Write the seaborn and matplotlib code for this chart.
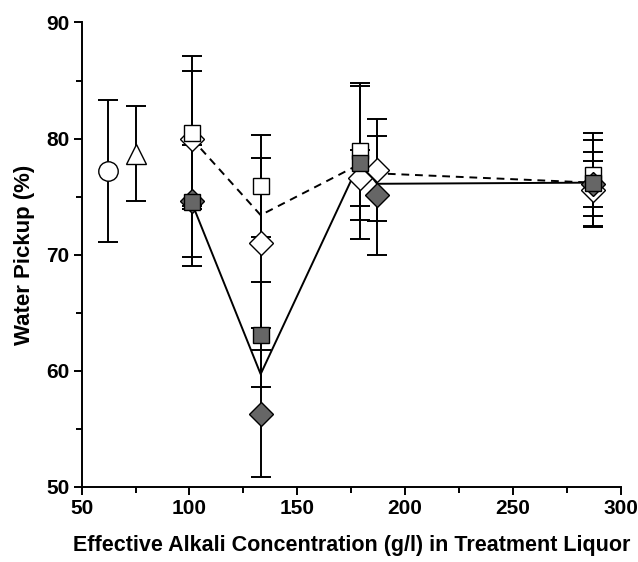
import numpy as np
import pandas as pd
import matplotlib
matplotlib.use("Agg")
import matplotlib.pyplot as plt
import seaborn as sns
from matplotlib.ticker import MultipleLocator

# single reference points
ref_circle_x = [62]
ref_circle_y = [77.2]
ref_circle_err = [6.1]
ref_tri_x = [75]
ref_tri_y = [78.7]
ref_tri_err = [4.1]

# open squares
osq_x = [101, 133, 179, 287]
osq_y = [80.5, 75.9, 78.9, 76.9]
osq_err = [6.6, 4.4, 5.9, 3.6]

# open diamonds
odi_x = [101, 133, 179, 187, 287]
odi_y = [80.0, 71.0, 76.6, 77.3, 75.6]
odi_err = [5.8, 7.3, 2.4, 4.4, 3.2]

# filled squares
fsq_x = [101, 133, 179, 287]
fsq_y = [74.5, 63.1, 77.9, 76.2]
fsq_err = [5.5, 4.5, 6.6, 3.7]

# filled diamonds
fdi_x = [101, 133, 187, 287]
fdi_y = [74.6, 56.3, 75.1, 76.1]
fdi_err = [4.8, 5.45, 5.1, 2.0]

# trend lines
line_x = [101, 133, 179, 187, 287]
solid_y = [74.5, 59.7, 78.0, 76.1, 76.2]
dashed_y = [80.0, 73.4, 77.8, 77.0, 76.2]

sns.set_theme(style="ticks")
plt.rcParams['font.family'] = ['Liberation Sans', 'DejaVu Sans']
plt.rcParams['font.weight'] = 'bold'
plt.rcParams['text.color'] = 'black'
plt.rcParams['axes.labelcolor'] = 'black'

fig = plt.figure(figsize=(6.38, 5.62), dpi=100)
ax = fig.add_axes([0.128, 0.134, 0.845, 0.826])

lines = pd.DataFrame({"x": line_x * 2,
                      "y": solid_y + dashed_y,
                      "kind": ["solid"] * 5 + ["dashed"] * 5})
sns.lineplot(data=lines, x="x", y="y", style="kind", color="black",
             dashes={"solid": "", "dashed": (4, 3)}, linewidth=1.4,
             legend=False, ax=ax, sort=False, estimator=None, zorder=2)

eb = dict(fmt="none", ecolor="black", elinewidth=1.4, capsize=7, capthick=1.4, zorder=3)
for xs, ys, es in [(ref_circle_x, ref_circle_y, ref_circle_err),
                   (ref_tri_x, ref_tri_y, ref_tri_err),
                   (osq_x, osq_y, osq_err), (odi_x, odi_y, odi_err),
                   (fsq_x, fsq_y, fsq_err), (fdi_x, fdi_y, fdi_err)]:
    ax.errorbar(xs, ys, yerr=es, **eb)

mk = dict(linestyle="none", markeredgecolor="black", markeredgewidth=1.0, zorder=4)
ax.plot(ref_circle_x, ref_circle_y, marker="o", markersize=14, markerfacecolor="white", **mk)
ax.plot(ref_tri_x, ref_tri_y, marker="^", markersize=15, markerfacecolor="white", **mk)
ax.plot(odi_x, odi_y, marker="D", markersize=12, markerfacecolor="white", **mk)
ax.plot(osq_x, osq_y, marker="s", markersize=12, markerfacecolor="white", **mk)
ax.plot(fdi_x, fdi_y, marker="D", markersize=12, markerfacecolor="#666666", **mk)
ax.plot(fsq_x, fsq_y, marker="s", markersize=12, markerfacecolor="#666666", **mk)

ax.set_xlim(50, 300)
ax.set_ylim(50, 90)
ax.xaxis.set_major_locator(MultipleLocator(50))
ax.xaxis.set_minor_locator(MultipleLocator(25))
ax.yaxis.set_major_locator(MultipleLocator(10))
ax.yaxis.set_minor_locator(MultipleLocator(5))
ax.tick_params(which="major", length=6, width=1.4, labelsize=15, pad=3,
               colors="black", labelcolor="black")
ax.tick_params(which="minor", length=4, width=1.4, colors="black")
for lab in ax.get_xticklabels() + ax.get_yticklabels():
    lab.set_fontweight("bold")

sns.despine(ax=ax)
for s in ["left", "bottom"]:
    ax.spines[s].set_linewidth(1.4)
    ax.spines[s].set_color("black")

ax.set_xlabel("Effective Alkali Concentration (g/l) in Treatment Liquor",
              fontsize=15.5, fontweight="bold", labelpad=12, color="black")
ax.set_ylabel("Water Pickup (%)", fontsize=16, fontweight="bold", labelpad=8, color="black")

fig.savefig("out.png", dpi=100)
